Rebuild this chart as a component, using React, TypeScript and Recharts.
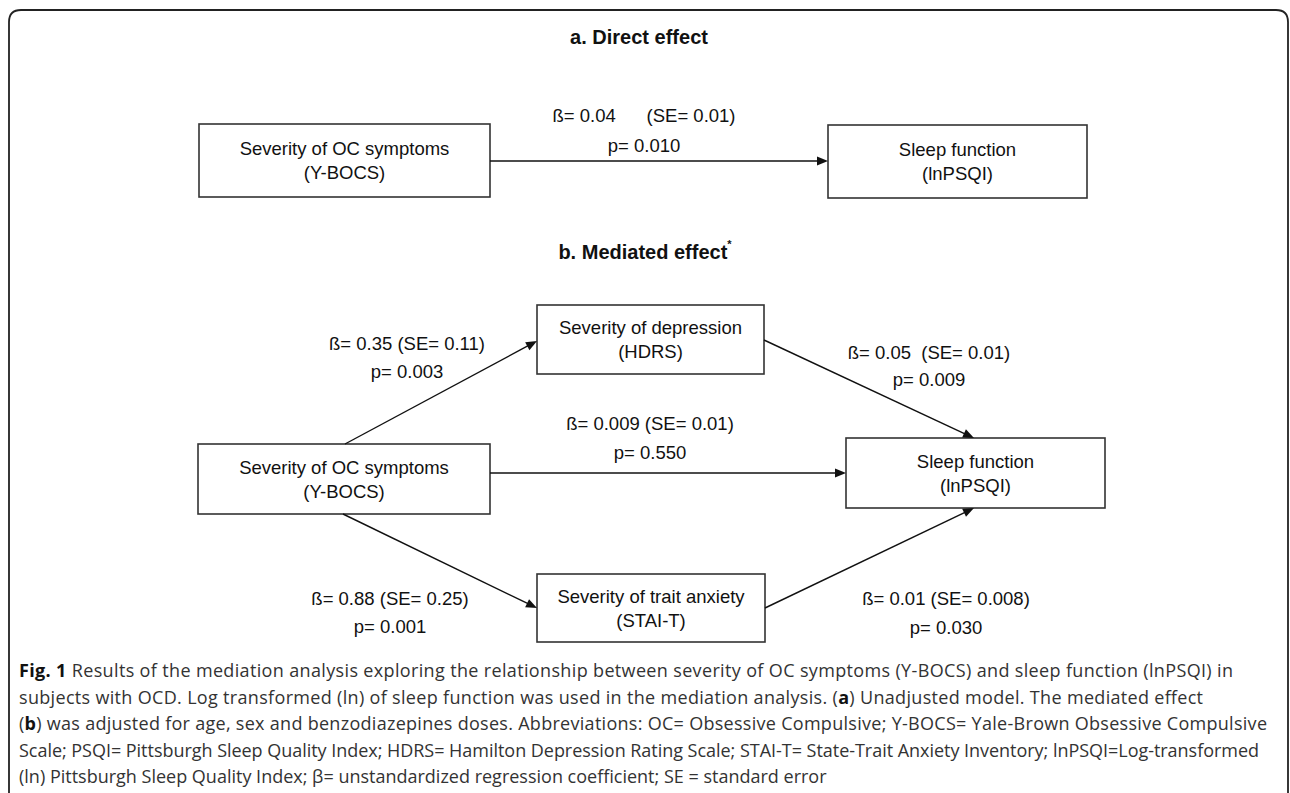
import React from 'react';
import { ScatterChart, Scatter, XAxis, YAxis, ReferenceArea, ReferenceLine } from 'recharts';

// ---------- content (values) ----------
const panelTitles = ['a. Direct effect', 'b. Mediated effect'];
const panelTitleMarks = ['', '*'];
const nodeNames = [
  'Severity of OC symptoms',
  'Sleep function',
  'Severity of depression',
  'Severity of OC symptoms',
  'Sleep function',
  'Severity of trait anxiety',
];
const nodeScales = ['(Y-BOCS)', '(lnPSQI)', '(HDRS)', '(Y-BOCS)', '(lnPSQI)', '(STAI-T)'];
const pathBetas = ['0.04', '0.35', '0.05', '0.009', '0.88', '0.01'];
const pathSEs = ['0.01', '0.11', '0.01', '0.01', '0.25', '0.008'];
const pathPValues = ['0.010', '0.003', '0.009', '0.550', '0.001', '0.030'];
const captionLines = [
  '**Fig. 1** Results of the mediation analysis exploring the relationship between severity of OC symptoms (Y-BOCS) and sleep function (lnPSQI) in',
  'subjects with OCD. Log transformed (ln) of sleep function was used in the mediation analysis. (**a**) Unadjusted model. The mediated effect',
  '(**b**) was adjusted for age, sex and benzodiazepines doses. Abbreviations: OC= Obsessive Compulsive; Y-BOCS= Yale-Brown Obsessive Compulsive',
  'Scale; PSQI= Pittsburgh Sleep Quality Index; HDRS= Hamilton Depression Rating Scale; STAI-T= State-Trait Anxiety Inventory; lnPSQI=Log-transformed',
  '(ln) Pittsburgh Sleep Quality Index; β= unstandardized regression coefficient; SE = standard error',
];

// ---------- layout (positions / sizes) ----------
const W = 1290;
const H = 793;
const titlePos = [
  { x: 639, y: 37 },
  { x: 645, y: 252 },
];
const nodeBoxes = [
  { x1: 199, x2: 490, y1: 124, y2: 197 },
  { x1: 828, x2: 1087, y1: 125, y2: 198 },
  { x1: 537, x2: 764, y1: 305, y2: 374 },
  { x1: 198, x2: 490, y1: 444, y2: 514 },
  { x1: 846, x2: 1105, y1: 438, y2: 508 },
  { x1: 537, x2: 765, y1: 574, y2: 642 },
];
const pathSegments = [
  [490, 161, 828, 161],
  [345, 444, 537, 341],
  [764, 340, 974, 438],
  [490, 473, 846, 473],
  [343, 514, 537, 608],
  [765, 608, 974, 508],
];
const pathLabelPos = [
  { x: 644, y1: 115, y2: 145, gap: 6 },
  { x: 407, y1: 343, y2: 371, gap: 1 },
  { x: 929, y1: 352, y2: 379, gap: 2 },
  { x: 650, y1: 423, y2: 452, gap: 1 },
  { x: 390, y1: 598, y2: 626, gap: 1 },
  { x: 946, y1: 598, y2: 627, gap: 1 },
];
const captionX = 19;
const captionY = [670, 696.5, 723, 749.5, 776];
const captionWidths = [1214, 1184, 1248, 1240, 0];

const DIAG_FONT = '"Liberation Sans", Arial, Helvetica, sans-serif';
const CAP_FONT = '"Open Sans", "Noto Sans", sans-serif';

// ---------- derived data for the library ----------
const titleData = panelTitles.map((t, i) => ({ x: titlePos[i].x, y: titlePos[i].y, text: t, mark: panelTitleMarks[i] }));
const nodeData = nodeNames.map((n, i) => ({
  x: (nodeBoxes[i].x1 + nodeBoxes[i].x2) / 2,
  y: (nodeBoxes[i].y1 + nodeBoxes[i].y2) / 2,
  name: n,
  scale: nodeScales[i],
}));
const betaData = pathBetas.map((b, i) => ({
  x: pathLabelPos[i].x,
  y: pathLabelPos[i].y1,
  text: 'ß= ' + b + ' '.repeat(pathLabelPos[i].gap) + '(SE= ' + pathSEs[i] + ')',
}));
const pData = pathPValues.map((p, i) => ({ x: pathLabelPos[i].x, y: pathLabelPos[i].y2, text: 'p= ' + p }));
const captionData = captionLines.map((c, i) => ({ x: captionX, y: captionY[i], text: c, width: captionWidths[i] }));

const TitleShape = (props: any) => {
  const { cx, cy, payload } = props;
  return (
    <text x={cx} y={cy} textAnchor="middle" dominantBaseline="central" fontFamily={DIAG_FONT} fontWeight={700} fontSize={20} fill="#111">
      {payload.text}
      {payload.mark ? (
        <tspan fontSize={11} dy={-8}>
          {payload.mark}
        </tspan>
      ) : null}
    </text>
  );
};

const NodeShape = (props: any) => {
  const { cx, cy, payload } = props;
  return (
    <g>
      <text x={cx} y={cy - 12} textAnchor="middle" dominantBaseline="central" fontFamily={DIAG_FONT} fontSize={18.5} fill="#111">
        {payload.name}
      </text>
      <text x={cx} y={cy + 12} textAnchor="middle" dominantBaseline="central" fontFamily={DIAG_FONT} fontSize={18.5} fill="#111">
        {payload.scale}
      </text>
    </g>
  );
};

const LabelShape = (props: any) => {
  const { cx, cy, payload } = props;
  return (
    <text x={cx} y={cy} textAnchor="middle" dominantBaseline="central" fontFamily={DIAG_FONT} fontSize={18.5} fill="#111" style={{ whiteSpace: 'pre' }}>
      {payload.text}
    </text>
  );
};

const CaptionShape = (props: any) => {
  const { cx, cy, payload } = props;
  const parts = String(payload.text).split('**');
  const extra: any = payload.width ? { textLength: payload.width, lengthAdjust: 'spacing' } : {};
  return (
    <text x={cx} y={cy} dominantBaseline="central" fontFamily={CAP_FONT} fontSize={18} fill="#333" {...extra}>
      {parts.map((s, i) => (
        <tspan key={i} fontWeight={i % 2 === 1 ? 700 : 400} fill={i % 2 === 1 ? '#111' : '#333'}>
          {s}
        </tspan>
      ))}
    </text>
  );
};

const ArrowShape = (props: any) => {
  const { x1, y1, x2, y2 } = props;
  const dx = x2 - x1;
  const dy = y2 - y1;
  const len = Math.sqrt(dx * dx + dy * dy) || 1;
  const ux = dx / len;
  const uy = dy / len;
  const L = 11;
  const hw = 4.5;
  const bx = x2 - ux * L;
  const by = y2 - uy * L;
  const pts = `${x2},${y2} ${bx - uy * hw},${by + ux * hw} ${bx + uy * hw},${by - ux * hw}`;
  return (
    <g>
      <line x1={x1} y1={y1} x2={bx + ux * 1} y2={by + uy * 1} stroke="#111" strokeWidth={1.4} />
      <polygon points={pts} fill="#111" />
    </g>
  );
};

const FrameShape = (props: any) => {
  const { x, y, width, height } = props;
  const r = 12;
  const x2 = x + width;
  const y2 = y + height + 5;
  const d = `M${x},${y2} L${x},${y + r} Q${x},${y} ${x + r},${y} L${x2 - r},${y} Q${x2},${y} ${x2},${y + r} L${x2},${y2}`;
  return <path d={d} fill="none" stroke="#222" strokeWidth={1.8} />;
};

const BoxShape = (props: any) => {
  const { x, y, width, height } = props;
  return <rect x={x} y={y} width={width} height={height} fill="#fff" stroke="#333" strokeWidth={1.6} />;
};

export default function App() {
  return (
    <div style={{ position: 'absolute', left: 0, top: 0, width: W, height: H, background: '#fff' }}>
      <ScatterChart width={W} height={H} margin={{ top: 0, right: 0, bottom: 0, left: 0 }}>
        <XAxis type="number" dataKey="x" domain={[0, W]} hide allowDataOverflow />
        <YAxis type="number" dataKey="y" domain={[0, H]} hide reversed allowDataOverflow />
        <ReferenceArea x1={9} x2={1288} y1={10} y2={H} shape={FrameShape} ifOverflow="visible" />
        {pathSegments.map((s, i) => (
          <ReferenceLine
            key={'p' + i}
            segment={[
              { x: s[0], y: s[1] },
              { x: s[2], y: s[3] },
            ]}
            shape={ArrowShape}
            ifOverflow="visible"
          />
        ))}
        {nodeBoxes.map((b, i) => (
          <ReferenceArea key={'b' + i} x1={b.x1} x2={b.x2} y1={b.y1} y2={b.y2} shape={BoxShape} ifOverflow="visible" />
        ))}
        <Scatter data={titleData} shape={TitleShape} isAnimationActive={false} />
        <Scatter data={nodeData} shape={NodeShape} isAnimationActive={false} />
        <Scatter data={betaData} shape={LabelShape} isAnimationActive={false} />
        <Scatter data={pData} shape={LabelShape} isAnimationActive={false} />
        <Scatter data={captionData} shape={CaptionShape} isAnimationActive={false} />
      </ScatterChart>
    </div>
  );
}
